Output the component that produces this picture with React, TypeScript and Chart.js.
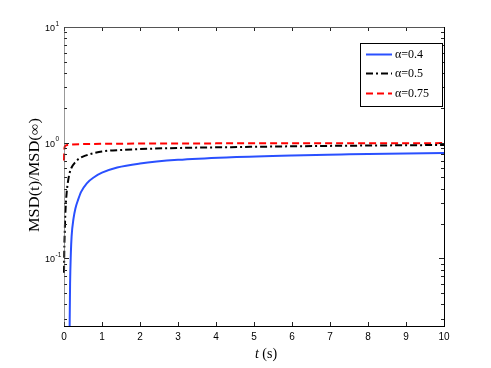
import React, { useEffect, useRef } from 'react';
import { Chart, registerables } from 'chart.js';

Chart.register(...registerables);

// ---- data ----
const blueT = [0.145, 0.16, 0.18, 0.2, 0.25, 0.3, 0.37, 0.45, 0.6, 0.8, 1, 1.4, 2, 3, 4.4, 6, 7.3, 8.5, 10];
const blueY = [0.02, 0.06, 0.11, 0.155, 0.22, 0.27, 0.32, 0.375, 0.445, 0.505, 0.55, 0.61, 0.66, 0.71, 0.748, 0.775, 0.79, 0.803, 0.815];

const blackT = [0, 0.005, 0.01, 0.02, 0.03, 0.05, 0.07, 0.1, 0.15, 0.2, 0.3, 0.4, 0.6, 0.8, 1, 1.5, 2, 3, 4.4, 6, 7.3, 8.5, 10];
const blackY = [0.075, 0.1, 0.13, 0.17, 0.22, 0.3, 0.37, 0.45, 0.55, 0.61, 0.68, 0.73, 0.78, 0.815, 0.84, 0.865, 0.88, 0.9, 0.915, 0.93, 0.94, 0.947, 0.955];

const redT = [0, 0.003, 0.008, 0.015, 0.03, 0.06, 0.1, 0.2, 0.5, 1, 2, 4, 7, 10];
const redY = [0.7, 0.78, 0.86, 0.91, 0.935, 0.95, 0.957, 0.965, 0.972, 0.977, 0.982, 0.986, 0.989, 0.991];

const seriesLabels = ['α=0.4', 'α=0.5', 'α=0.75'];

const xTickValues = [0, 1, 2, 3, 4, 5, 6, 7, 8, 9, 10];
const xTickLabels = ['0', '1', '2', '3', '4', '5', '6', '7', '8', '9', '10'];
const yTickValues = [
  0.03, 0.04, 0.05, 0.06, 0.07, 0.08, 0.09,
  0.1, 0.2, 0.3, 0.4, 0.5, 0.6, 0.7, 0.8, 0.9,
  1, 2, 3, 4, 5, 6, 7, 8, 9, 10,
];
const yMajorValues = [0.1, 1, 10];
const yMajorExponents = ['-1', '0', '1'];

const yTitle = 'MSD(t)/MSD(∞)';
const xTitleItalic = 't';
const xTitleRest = ' (s)';

const SANS = '"Liberation Sans Narrow", "Liberation Sans", Arial, sans-serif';
const SERIF = '"Liberation Serif", "Times New Roman", serif';

const toPoints = (t: number[], y: number[]) => t.map((v, i) => ({ x: v, y: y[i] }));

const matlabPlugin = {
  id: 'matlabAxes',
  afterDatasetsDraw(chart: any) {
    const ctx: CanvasRenderingContext2D = chart.ctx;
    const a = chart.chartArea;
    const xs = chart.scales.x;
    const ys = chart.scales.y;
    const line = (x1: number, y1: number, x2: number, y2: number) => {
      ctx.beginPath();
      ctx.moveTo(x1, y1);
      ctx.lineTo(x2, y2);
      ctx.stroke();
    };
    ctx.save();
    ctx.setLineDash([]);
    ctx.lineWidth = 1;

    // tick marks (inside)
    ctx.strokeStyle = '#222';
    xTickValues.forEach((v) => {
      const px = Math.round(xs.getPixelForValue(v)) + 0.5;
      line(px, a.bottom, px, a.bottom - 4);
      line(px, a.top, px, a.top + 4);
    });
    yTickValues.forEach((v) => {
      const lg = Math.log10(v);
      const major = Math.abs(lg - Math.round(lg)) < 1e-6;
      const len = major ? 5 : 3;
      const py = Math.round(ys.getPixelForValue(v)) + 0.5;
      line(a.left, py, a.left + len, py);
      line(a.right, py, a.right - len, py);
    });

    // axes box
    ctx.strokeStyle = '#555';
    line(a.left + 0.5, a.top + 0.5, a.right + 0.5, a.top + 0.5);
    ctx.strokeStyle = 'rgba(85,85,85,0.6)';
    line(a.left + 0.5, a.top + 0.5, a.left + 0.5, a.bottom + 0.5);
    ctx.strokeStyle = '#000';
    line(a.left, a.bottom + 0.5, a.right + 1, a.bottom + 0.5);
    line(a.right + 0.5, a.top, a.right + 0.5, a.bottom + 1);

    // x tick labels
    ctx.fillStyle = '#000';
    ctx.font = `10px ${SANS}`;
    ctx.textAlign = 'center';
    ctx.textBaseline = 'middle';
    xTickValues.forEach((v, i) => {
      ctx.fillText(xTickLabels[i], xs.getPixelForValue(v), a.bottom + 11);
    });

    // y tick labels (10^n)
    ctx.textAlign = 'left';
    yMajorValues.forEach((v, i) => {
      const py = ys.getPixelForValue(v);
      ctx.font = `9px ${SANS}`;
      const x0 = 45;
      ctx.fillText('10', x0, py + 1.5);
      const w = ctx.measureText('10').width;
      ctx.font = `6.5px ${SANS}`;
      ctx.fillText(yMajorExponents[i], x0 + w + 0.5, py - 3);
    });

    // y title
    ctx.save();
    ctx.translate(35.5, 175);
    ctx.rotate(-Math.PI / 2);
    ctx.font = `13px ${SERIF}`;
    const tw = ctx.measureText(yTitle).width;
    ctx.scale(114 / tw, 1.05);
    ctx.textAlign = 'center';
    ctx.textBaseline = 'middle';
    ctx.fillText(yTitle, 0, 0);
    ctx.restore();

    // x title
    ctx.textBaseline = 'middle';
    ctx.textAlign = 'left';
    ctx.font = `italic 14px ${SERIF}`;
    const w1 = ctx.measureText(xTitleItalic).width;
    ctx.font = `14px ${SERIF}`;
    const w2 = ctx.measureText(xTitleRest).width;
    const startX = 266 - (w1 + w2) / 2;
    ctx.font = `italic 14px ${SERIF}`;
    ctx.fillText(xTitleItalic, startX, 354);
    ctx.font = `14px ${SERIF}`;
    ctx.fillText(xTitleRest, startX + w1, 354);

    // legend
    const lx = 360, ly = 43, lw = 82, lh = 63;
    ctx.fillStyle = '#fff';
    ctx.fillRect(lx, ly, lw, lh);
    ctx.strokeStyle = '#000';
    ctx.lineWidth = 1;
    ctx.strokeRect(lx + 0.5, ly + 0.5, lw, lh);
    const rows = [54.5, 73.5, 93.5];
    chart.data.datasets.forEach((ds: any, i: number) => {
      const yy = rows[i];
      ctx.strokeStyle = ds.borderColor;
      ctx.lineWidth = ds.borderWidth;
      ctx.setLineDash(ds.borderDash || []);
      line(366, yy, 392, yy);
      ctx.setLineDash([]);
      ctx.fillStyle = '#000';
      ctx.font = `12px ${SERIF}`;
      ctx.textAlign = 'left';
      ctx.textBaseline = 'middle';
      ctx.fillText(ds.label, 395, yy + 0.5);
    });

    ctx.restore();
  },
};

const lineClip = { left: 2, right: 0, top: 0, bottom: 0 };

export default function App() {
  const canvasRef = useRef<HTMLCanvasElement | null>(null);

  useEffect(() => {
    if (!canvasRef.current) return;
    const chart = new Chart(canvasRef.current, {
      type: 'line',
      data: {
        datasets: [
          {
            label: seriesLabels[0],
            data: toPoints(blueT, blueY),
            borderColor: '#2A50FF',
            borderWidth: 2,
            borderDash: [],
            pointRadius: 0,
            cubicInterpolationMode: 'monotone',
            clip: lineClip,
          },
          {
            label: seriesLabels[1],
            data: toPoints(blackT, blackY),
            borderColor: '#000000',
            borderWidth: 2,
            borderDash: [7, 3, 2, 3],
            pointRadius: 0,
            cubicInterpolationMode: 'monotone',
            clip: lineClip,
          },
          {
            label: seriesLabels[2],
            data: toPoints(redT, redY),
            borderColor: '#FF0000',
            borderWidth: 2,
            borderDash: [7, 4],
            pointRadius: 0,
            cubicInterpolationMode: 'monotone',
            clip: lineClip,
          },
        ],
      } as any,
      options: {
        responsive: false,
        animation: false,
        devicePixelRatio: 1,
        layout: { padding: { left: 64, top: 27, right: 47, bottom: 42 } },
        plugins: { legend: { display: false }, tooltip: { enabled: false } },
        scales: {
          x: { type: 'linear', min: 0, max: 10, display: false },
          y: { type: 'logarithmic', min: 0.026, max: 10, display: false },
        },
      } as any,
      plugins: [matlabPlugin],
    });
    return () => chart.destroy();
  }, []);

  return (
    <div style={{ position: 'fixed', left: 0, top: 0, width: 491, height: 368, background: '#fff' }}>
      <canvas ref={canvasRef} width={491} height={368} style={{ width: 491, height: 368 }} />
    </div>
  );
}
